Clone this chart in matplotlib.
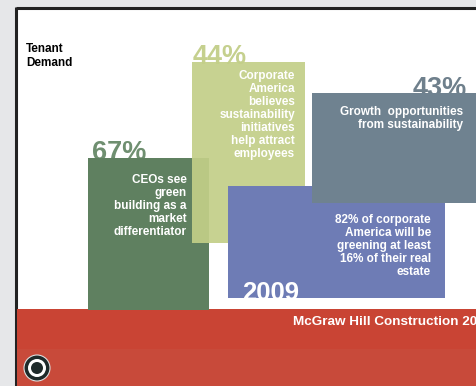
import matplotlib.pyplot as plt
import matplotlib.patches as mpatches

plt.rcParams['font.family'] = ['Liberation Sans', 'DejaVu Sans']

# slide content
percents = ["67%", "44%", "43%"]
year = "2009"
text_ceo = ["CEOs see", "green", "building as a", "market", "differentiator"]
text_corp = ["Corporate", "America", "believes", "sustainability", "initiatives",
             "help attract", "employees"]
text_growth = ["Growth  opportunities", "from sustainability"]
text_greening = ["82% of corporate", "America will be", "greening at least",
                 "16% of their real", "estate"]
title = ["Tenant", "Demand"]
footer = "McGraw Hill Construction 2009"

W, H = 476, 386
fig = plt.figure(figsize=(W / 100, H / 100), dpi=100)
fig.patch.set_facecolor('#e6e7e9')
ax = fig.add_axes([0, 0, 1, 1])
ax.set_xlim(0, W)
ax.set_ylim(H, 0)
ax.axis('off')

# slide background + border
ax.add_patch(mpatches.Rectangle((16, 7), W, H, facecolor='white', edgecolor='none', zorder=0))
ax.plot([16, 16], [7, H], color='#222222', lw=2.2, zorder=1, solid_capstyle='butt')
ax.plot([16, W], [7.5, 7.5], color='#222222', lw=2.2, zorder=1, solid_capstyle='butt')

# red footer band
ax.add_patch(mpatches.Rectangle((17, 309), W, 40, facecolor='#c94434', edgecolor='none', zorder=1))
ax.add_patch(mpatches.Rectangle((17, 349), W, 40, facecolor='#c84a3a', edgecolor='none', zorder=1))

# big percentages (partly hidden behind the boxes)
ax.text(92, 160, percents[0], fontsize=19.5, fontweight='bold', color='#6f8f70', zorder=2)
ax.text(193, 64.5, percents[1], fontsize=19.5, fontweight='bold', color='#c5d08e', zorder=2)
ax.text(467, 96.5, percents[2], fontsize=19.5, fontweight='bold', color='#6f808c',
        ha='right', zorder=2)

# boxes
boxes = [
    ((88, 158), 121, 152, '#5f8060', 1.0, 3),
    ((192, 62), 113, 181, '#c3cf88', 0.92, 4),
    ((228, 186), 217, 112, '#6e7cb5', 1.0, 5),
    ((312, 93), 170, 110, '#6f8290', 1.0, 6),
]
for (xy, w, h, c, a, z) in boxes:
    ax.add_patch(mpatches.Rectangle(xy, w, h, facecolor=c, edgecolor='none', alpha=a, zorder=z))


def lines(items, x, y0, z, step=13, color='white'):
    for i, s in enumerate(items):
        ax.text(x, y0 + i * step, s, fontsize=8.5, fontweight='bold', color=color,
                ha='right', va='center', zorder=z)


lines(text_ceo, 187, 180, 3.5)
lines(text_corp, 295, 76, 4.5)
lines(text_greening, 431, 220, 5.5)
lines(text_growth, 463, 112, 6.5)

ax.text(242, 300, year, fontsize=18.5, fontweight='bold', color='white', zorder=5.5)

for i, s in enumerate(title):
    ax.text(26, 49 + i * 14, s, fontsize=8.5, fontweight='bold', color='black', va='center')

ax.text(293, 322, footer, fontsize=9.7, fontweight='bold', color='white', va='center',
        zorder=3, clip_on=True)

# logo
ax.add_patch(mpatches.Circle((37, 368), 13, facecolor='#1e2a2a', edgecolor='#dddddd',
                             lw=0.8, zorder=3))
ax.add_patch(mpatches.Circle((37, 368), 9, facecolor='white', edgecolor='none', zorder=3))
ax.add_patch(mpatches.Circle((37, 368), 6, facecolor='#1e2a2a', edgecolor='none', zorder=3))

fig.savefig('out.png', dpi=100, facecolor=fig.get_facecolor())
